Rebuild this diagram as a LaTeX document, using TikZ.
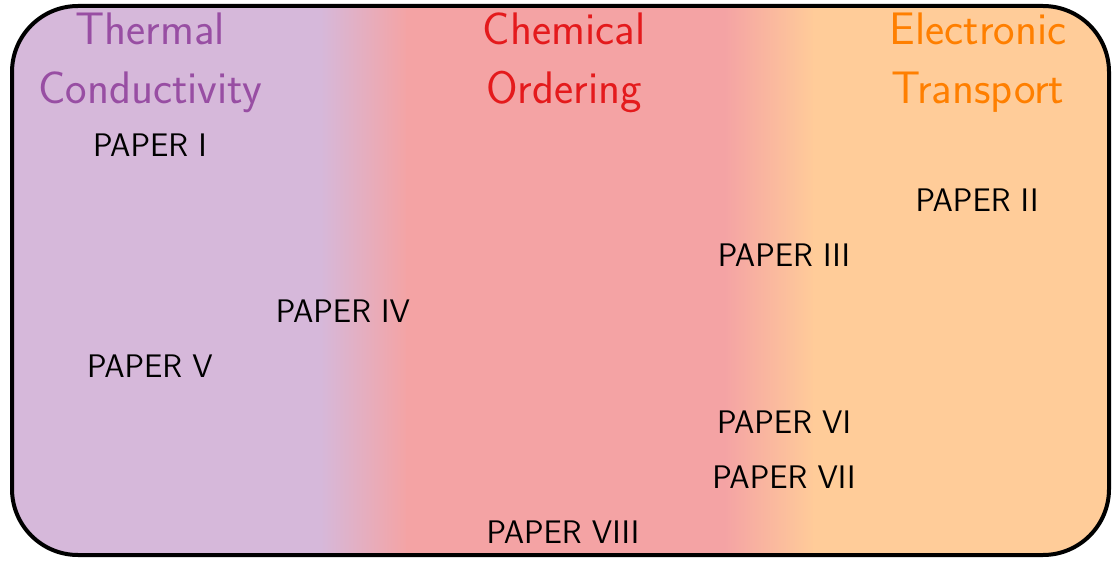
\documentclass[tikz,border=0pt]{standalone}
\usetikzlibrary{calc}
\definecolor{thermal}{HTML}{984EA3}
\definecolor{chemical}{HTML}{E41A1C}
\definecolor{electronic}{HTML}{FF7F00}
\colorlet{thermalbg}{thermal!40!white}
\colorlet{chemicalbg}{chemical!40!white}
\colorlet{electronicbg}{electronic!40!white}
\tikzset{
  topic/.style={font=\sffamily\fontsize{22.8}{29.8}\selectfont, align=center, inner sep=0pt, anchor=base},
  paper/.style={font=\sffamily\fontsize{16.3}{19}\selectfont, text=black, inner sep=0pt, anchor=base},
  frame/.style={line width=2pt, rounded corners=33pt},
}
\begin{document}
\begin{tikzpicture}[x=0.5pt, y=-0.5pt]
  \useasboundingbox (0,0) rectangle (1113,561);
  % colour bands, clipped to the rounded frame
  \begin{scope}
    \clip[rounded corners=33pt] (12,6) rectangle (1109,555);
    \fill[thermalbg] (0,0) rectangle (322,561);
    \shade[left color=thermalbg, right color=chemicalbg] (320,0) rectangle (408,561);
    \fill[chemicalbg] (406,0) rectangle (727,561);
    \shade[left color=chemicalbg, right color=electronicbg] (725,0) rectangle (815,561);
    \fill[electronicbg] (813,0) rectangle (1113,561);
  \end{scope}
  \draw[frame] (12,6) rectangle (1109,555);

  % research topics (anchored at the baseline of the second line)
  \node[topic, text=thermal]    (thermal)    at (150,104) {Thermal\\Conductivity};
  \node[topic, text=chemical]   (chemical)   at (564,104) {Chemical\\Ordering};
  \node[topic, text=electronic] (electronic) at (978,104) {Electronic\\Transport};

  % papers
  \node[paper] (p1) at (150,157) {PAPER I};
  \node[paper] (p2) at (977,212) {PAPER II};
  \node[paper] (p3) at (784,267) {PAPER III};
  \node[paper] (p4) at (343,322) {PAPER IV};
  \node[paper] (p5) at (150,377) {PAPER V};
  \node[paper] (p6) at (784,433) {PAPER VI};
  \node[paper] (p7) at (784,488) {PAPER VII};
  \node[paper] (p8) at (563,543) {PAPER VIII};
\end{tikzpicture}
\end{document}
